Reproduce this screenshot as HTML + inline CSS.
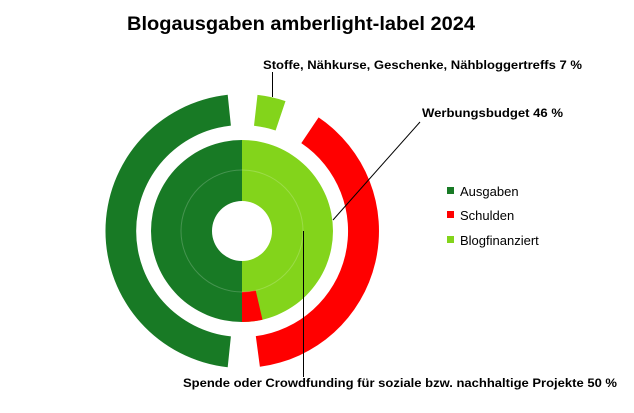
<!DOCTYPE html>
<html><head><meta charset="utf-8"><style>
html,body{margin:0;padding:0;background:#fff}
svg{display:block;font-family:"Liberation Sans",Arial,sans-serif}
</style></head><body>
<svg width="634" height="413" viewBox="0 0 634 413" xmlns="http://www.w3.org/2000/svg">
<rect width="634" height="413" fill="#fff"/>
<text x="301" y="30" text-anchor="middle" font-size="19" font-weight="bold" textLength="348" lengthAdjust="spacingAndGlyphs">Blogausgaben amberlight-label 2024</text>
<!-- outer ring -->
<path d="M227.7,367.2 A137,137 0 0 1 227.7,94.8 L230.9,125.6 A106,106 0 0 0 230.9,336.4 Z" fill="#187a25"/>
<path d="M257.5,94.9 A137,137 0 0 1 285.5,101.1 L275.6,130.5 A106,106 0 0 0 254.0,125.7 Z" fill="#83d41b"/>
<path d="M318.6,117.4 A137,137 0 0 1 259.9,366.8 L255.8,336.1 A106,106 0 0 0 301.3,143.1 Z" fill="#ff0000"/>
<!-- inner ring -->
<path d="M242,322 A91,91 0 0 1 242,140 L242,201 A30,30 0 0 0 242,261 Z" fill="#187a25"/>
<path d="M242,140 A91,91 0 0 1 242,322 L242,261 A30,30 0 0 0 242,201 Z" fill="#83d41b"/>
<path d="M262.5,319.7 A91,91 0 0 1 242,322 L242,292 A61,61 0 0 0 255.7,290.4 Z" fill="#ff0000"/>
<circle cx="242" cy="231" r="61" fill="none" stroke="#fff" stroke-opacity="0.2" stroke-width="1"/>
<!-- leader lines -->
<line x1="272.5" y1="72" x2="272.5" y2="97" stroke="#000" stroke-width="1"/>
<line x1="420" y1="122" x2="333" y2="220" stroke="#000" stroke-width="1"/>
<line x1="303.5" y1="231" x2="303.5" y2="377" stroke="#000" stroke-width="1"/>
<!-- labels -->
<text x="263" y="69" font-size="12" font-weight="bold" textLength="319" lengthAdjust="spacingAndGlyphs">Stoffe, Nähkurse, Geschenke, Nähbloggertreffs 7 %</text>
<text x="422" y="117" font-size="12" font-weight="bold" textLength="141" lengthAdjust="spacingAndGlyphs">Werbungsbudget 46 %</text>
<text x="183" y="387" font-size="12" font-weight="bold" textLength="434" lengthAdjust="spacingAndGlyphs">Spende oder Crowdfunding für soziale bzw. nachhaltige Projekte 50 %</text>
<!-- legend -->
<rect x="447" y="187" width="7" height="7" fill="#187a25"/>
<text x="460" y="196" font-size="13">Ausgaben</text>
<rect x="447" y="211" width="7" height="7" fill="#ff0000"/>
<text x="460" y="220" font-size="13">Schulden</text>
<rect x="447" y="236" width="7" height="7" fill="#83d41b"/>
<text x="460" y="245" font-size="13">Blogfinanziert</text>
</svg>
</body></html>
